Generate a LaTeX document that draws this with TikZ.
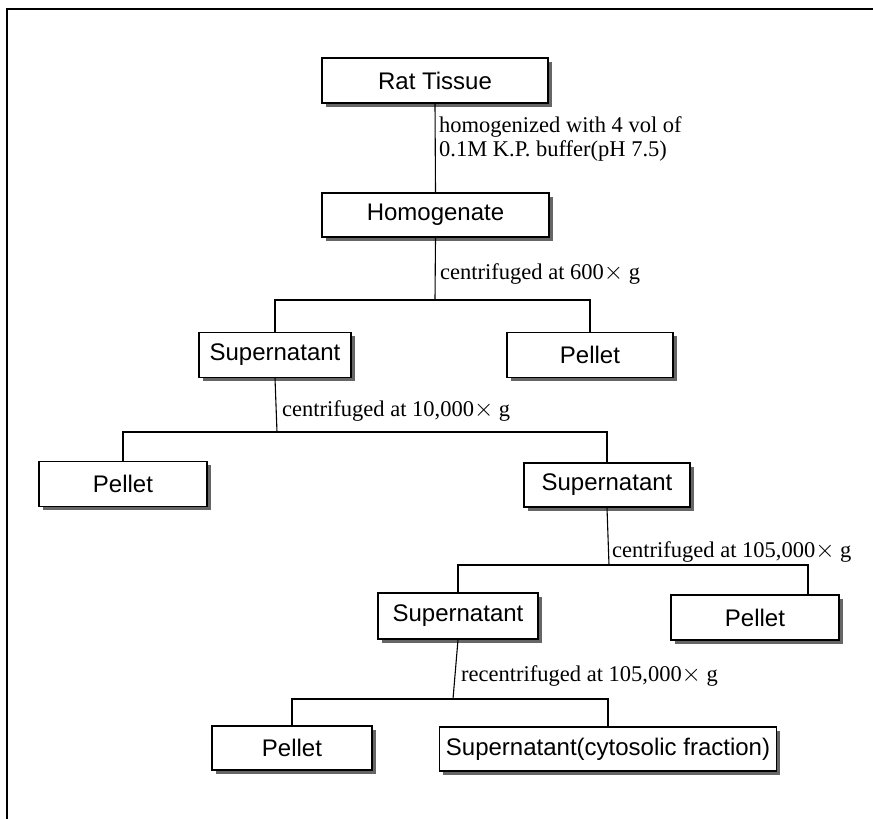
\documentclass[tikz,border=0pt]{standalone}
\usepackage{fontspec}
\setmainfont{Liberation Serif}
\newfontfamily\boxfont{Liberation Sans}
\usetikzlibrary{shadows}
\newcommand{\tms}{{\fontsize{30}{24}\selectfont$\times$}}
\begin{document}
\begin{tikzpicture}[x=1pt,y=-1pt,
  stepbox/.style={draw=black, line width=1.5pt, fill=white, inner sep=0pt,
    font=\boxfont\fontsize{24}{28}\selectfont, minimum height=44pt,
    drop shadow={shadow xshift=3.5pt, shadow yshift=-3.5pt, fill=black!60, opacity=1}},
  lbl/.style={anchor=west, inner sep=0pt, align=left,
    font=\fontsize{22.5}{24}\selectfont},
  conn/.style={line width=1.1pt}]
\useasboundingbox (0,0) rectangle (873,819);
% frame
\coordinate (fa) at (7,819);
\coordinate (fb) at (7,9);
\coordinate (fc) at (873,9);
\draw[line width=2pt] (fa) -- (fb) -- (fc);
% bus coordinates
\coordinate (b1) at (435,300);
\coordinate (b2) at (277,432);
\coordinate (b3) at (609,565);
\coordinate (d3) at (808,565);
\coordinate (b4) at (453,699);
% nodes
\node[stepbox, minimum width=226pt, minimum height=45pt] (rat) at (435,80.5) {Rat Tissue};
\node[stepbox, minimum width=227pt] (homo) at (435.5,215) {Homogenate};
\node[stepbox, minimum width=152pt, minimum height=45pt] (sup1) at (275,355) {Supernatant};
\node[stepbox, minimum width=166pt, minimum height=45pt] (pel1) at (590,355) {Pellet};
\node[stepbox, minimum width=168pt, minimum height=45pt] (pel2) at (123,484) {Pellet};
\node[stepbox, minimum width=166pt] (sup2) at (607,485) {Supernatant};
\node[stepbox, minimum width=160pt, minimum height=46pt] (sup3) at (458,616) {Supernatant};
\node[stepbox, minimum width=168pt, minimum height=45pt] (pel3) at (755,617.5) {Pellet};
\node[stepbox, minimum width=160pt] (pel4) at (292,748) {Pellet};
\node[stepbox, minimum width=337pt] (cyto) at (608,749) {Supernatant(cytosolic fraction)};
% connectors
\draw[conn] (rat.south) -- (homo.north);
\draw[conn] (homo.south) -- (b1);
\draw[conn] (sup1.north) -- (sup1.north |- b1) -- (pel1.north |- b1) -- (pel1.north);
\draw[conn] (sup1.south) -- (b2);
\draw[conn] (pel2.north) -- (pel2.north |- b2) -- (sup2.north |- b2) -- (sup2.north);
\draw[conn] (sup2.south) -- (b3);
\draw[conn] (sup3.north) -- (sup3.north |- b3) -- (d3) -- (d3 |- pel3.north);
\draw[conn] (sup3.south) -- (b4);
\draw[conn] (pel4.north) -- (pel4.north |- b4) -- (cyto.north |- b4) -- (cyto.north);
% labels
\node[lbl] (t0) at (439,139) {homogenized with 4 vol of\\0.1M K.P. buffer(pH 7.5)};
\node[lbl] (t1) at (440,274) {centrifuged at 600\tms{} g};
\node[lbl] (t2) at (282,411) {centrifuged at 10,000\tms{} g};
\node[lbl] (t3) at (612,552) {centrifuged at 105,000\tms{} g};
\node[lbl] (t4) at (461,676) {recentrifuged at 105,000\tms{} g};
\end{tikzpicture}
\end{document}
